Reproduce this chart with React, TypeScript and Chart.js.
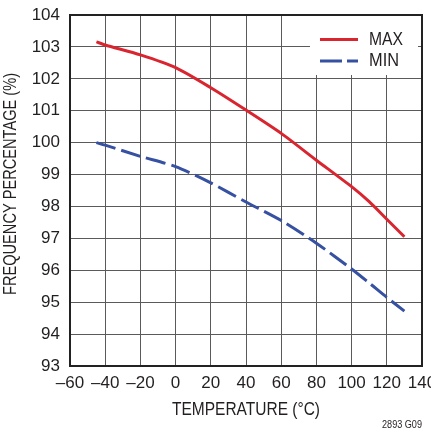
import React, { useEffect, useRef } from "react";
import { Chart, registerables } from "chart.js";

Chart.register(...registerables);

const temps = [-45, -40, -20, 0, 20, 40, 60, 80, 100, 110, 120, 130];
const maxValues = [103.16, 103.06, 102.75, 102.35, 101.72, 101.02, 100.29, 99.45, 98.62, 98.15, 97.6, 97.05];
const minValues = [100.0, 99.92, 99.57, 99.25, 98.74, 98.14, 97.56, 96.85, 96.04, 95.6, 95.15, 94.72];
const xTicks = [-60, -40, -20, 0, 20, 40, 60, 80, 100, 120, 140];
const yTicks = [93, 94, 95, 96, 97, 98, 99, 100, 101, 102, 103, 104];
const seriesNames = ["MAX", "MIN"];
const xTitle = "TEMPERATURE (°C)";
const yTitle = "FREQUENCY PERCENTAGE (%)";
const footnote = "2893 G09";

const RED = "#d9252f";
const BLUE = "#3650a2";
const TEXT = "#231f20";
const FONT = "'Liberation Sans', Arial, sans-serif";

function narrowText(ctx: any, text: string, x: number, y: number, targetWidth: number, align: string) {
  const w = ctx.measureText(text).width;
  const s = targetWidth / w;
  ctx.save();
  ctx.translate(x, y);
  ctx.scale(s, 1);
  ctx.textAlign = align;
  ctx.fillText(text, 0, 0);
  ctx.restore();
}

const decorPlugin = {
  id: "decor",
  beforeDatasetsDraw(chart: any) {
    const { ctx, chartArea } = chart;
    const { right, top } = chartArea;
    ctx.save();
    ctx.fillStyle = "#ffffff";
    ctx.fillRect(310, top + 1, right - 4 - 310, 75 - top - 1);
    ctx.lineWidth = 3;
    ctx.strokeStyle = RED;
    ctx.beginPath();
    ctx.moveTo(320, 39.5);
    ctx.lineTo(358, 39.5);
    ctx.stroke();
    ctx.strokeStyle = BLUE;
    ctx.setLineDash([22, 5]);
    ctx.beginPath();
    ctx.moveTo(320, 61);
    ctx.lineTo(358, 61);
    ctx.stroke();
    ctx.setLineDash([]);
    ctx.fillStyle = TEXT;
    ctx.font = `18px ${FONT}`;
    ctx.textBaseline = "middle";
    narrowText(ctx, seriesNames[0], 369, 40.5, 34, "left");
    narrowText(ctx, seriesNames[1], 369, 61.5, 30, "left");
    ctx.restore();
  },
  afterDraw(chart: any) {
    const { ctx, chartArea } = chart;
    const { left, right, top, bottom } = chartArea;
    ctx.save();
    ctx.strokeStyle = "#222";
    ctx.lineWidth = 2;
    ctx.strokeRect(left, top, right - left, bottom - top);
    ctx.fillStyle = TEXT;
    ctx.font = `18px ${FONT}`;
    ctx.textBaseline = "middle";
    narrowText(ctx, xTitle, (left + right) / 2, 410, 148, "center");
    ctx.save();
    ctx.translate(11, 184);
    ctx.rotate(-Math.PI / 2);
    narrowText(ctx, yTitle, 0, 0, 222, "center");
    ctx.restore();
    ctx.font = `11px ${FONT}`;
    narrowText(ctx, footnote, 422, 425, 40, "right");
    ctx.restore();
  },
};

export default function App() {
  const ref = useRef<HTMLCanvasElement | null>(null);
  useEffect(() => {
    document.body.style.margin = "0";
    const canvas = ref.current!;
    const chart = new Chart(canvas, {
      type: "line",
      data: {
        datasets: [
          {
            label: seriesNames[0],
            data: temps.map((t, i) => ({ x: t, y: maxValues[i] })),
            borderColor: RED,
            borderWidth: 3,
            pointRadius: 0,
            tension: 0.25,
            fill: false,
          },
          {
            label: seriesNames[1],
            data: temps.map((t, i) => ({ x: t, y: minValues[i] })),
            borderColor: BLUE,
            borderWidth: 3,
            borderDash: [20, 6],
            pointRadius: 0,
            tension: 0.25,
            fill: false,
          },
        ],
      },
      options: {
        responsive: false,
        animation: false,
        layout: { padding: { left: 0, right: 9, top: 15, bottom: 0 } },
        plugins: { legend: { display: false }, tooltip: { enabled: false } },
        scales: {
          x: {
            type: "linear",
            min: -60,
            max: 140,
            afterBuildTicks: (s: any) => {
              s.ticks = xTicks.map((v) => ({ value: v }));
            },
            afterFit: (s: any) => {
              s.height = 68;
              s.paddingLeft = 0;
              s.paddingRight = 0;
            },
            ticks: {
              color: TEXT,
              font: { family: FONT, size: 17 },
              padding: 7,
              maxRotation: 0,
              autoSkip: false,
              callback: (v: any) => (Number(v) < 0 ? "\u2013" + Math.abs(Number(v)) : String(v)),
            },
            grid: { color: "#5a5a5a", lineWidth: 1, drawTicks: false },
            border: { display: false },
          },
          y: {
            type: "linear",
            min: 93,
            max: 104,
            afterBuildTicks: (s: any) => {
              s.ticks = yTicks.map((v) => ({ value: v }));
            },
            afterFit: (s: any) => {
              s.width = 70;
              s.paddingTop = 0;
              s.paddingBottom = 0;
            },
            ticks: {
              color: TEXT,
              font: { family: FONT, size: 17 },
              padding: 10,
              autoSkip: false,
            },
            grid: { color: "#5a5a5a", lineWidth: 1, drawTicks: false },
            border: { display: false },
          },
        },
      },
      plugins: [decorPlugin],
    });
    return () => chart.destroy();
  }, []);
  return <canvas ref={ref} width={431} height={434} style={{ display: "block" }} />;
}
